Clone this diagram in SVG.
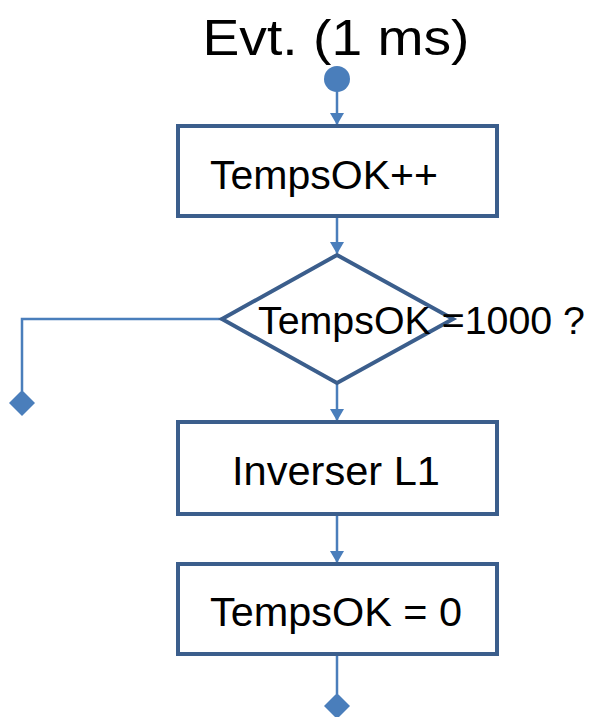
<svg xmlns="http://www.w3.org/2000/svg" width="594" height="717" viewBox="0 0 594 717">
<style>
.box{fill:#fff;stroke:#3B5E8C;stroke-width:4}
.con{fill:none;stroke:#4A7EBB;stroke-width:2.5}
.t{font-family:"Liberation Sans",Arial,sans-serif;fill:#000}
</style>
<defs>
<marker id="arr" markerWidth="12" markerHeight="14" refX="11" refY="7" orient="auto" markerUnits="userSpaceOnUse">
<path d="M0,0 L12,7 L0,14 Z" fill="#4A7EBB"/>
</marker>
<marker id="dia" markerWidth="26" markerHeight="26" refX="1" refY="13" orient="auto" markerUnits="userSpaceOnUse">
<path d="M0,13 L13,0 L26,13 L13,26 Z" fill="#4A7EBB"/>
</marker>
</defs>
<rect width="594" height="717" fill="#fff"/>
<g id="title"><text class="t" x="336" y="55" font-size="50" text-anchor="middle" textLength="267" lengthAdjust="spacingAndGlyphs">Evt. (1 ms)</text></g>
<g id="connectors">
<line class="con" x1="337" y1="90" x2="337" y2="124" marker-end="url(#arr)"/>
<line class="con" x1="337" y1="216" x2="337" y2="253" marker-end="url(#arr)"/>
<polyline class="con" points="222,319 22,319 22,391" marker-end="url(#dia)"/>
<line class="con" x1="337" y1="383" x2="337" y2="420" marker-end="url(#arr)"/>
<line class="con" x1="337" y1="514" x2="337" y2="562" marker-end="url(#arr)"/>
<line class="con" x1="337" y1="654" x2="337" y2="694" marker-end="url(#dia)"/>
</g>
<g id="start"><circle cx="337" cy="79" r="13" fill="#4A7EBB"/></g>
<g id="n1"><rect class="box" x="178" y="126" width="319" height="90"/>
<text class="t" x="210" y="189" font-size="40" textLength="228" lengthAdjust="spacingAndGlyphs">TempsOK++</text></g>
<g id="n2"><polygon class="box" points="337,255 453,319 337,383 222,319"/>
<text class="t" x="258" y="334" font-size="38" textLength="327" lengthAdjust="spacingAndGlyphs">TempsOK =1000 ?</text></g>
<g id="n3"><rect class="box" x="178" y="422" width="319" height="92"/>
<text class="t" x="232" y="485" font-size="40" textLength="208" lengthAdjust="spacingAndGlyphs">Inverser L1</text></g>
<g id="n4"><rect class="box" x="178" y="564" width="319" height="90"/>
<text class="t" x="210" y="626" font-size="40" textLength="252" lengthAdjust="spacingAndGlyphs">TempsOK = 0</text></g>
</svg>
